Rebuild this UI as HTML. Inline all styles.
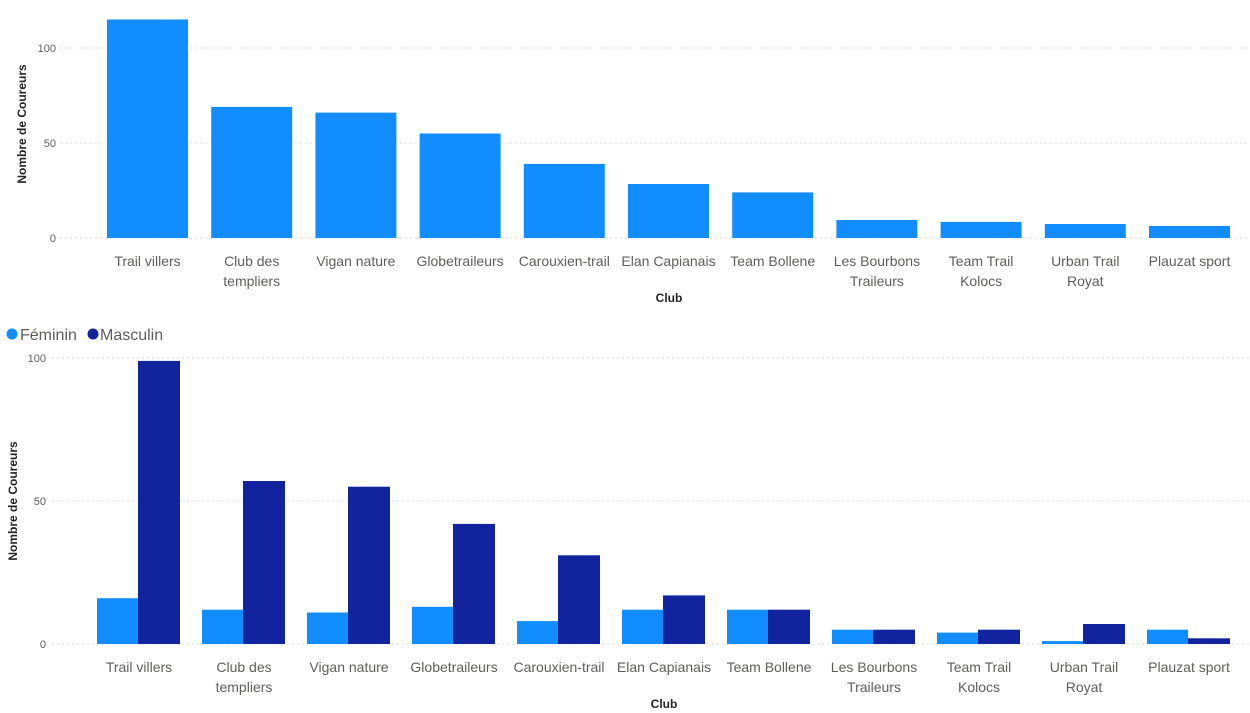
<!DOCTYPE html>
<html><head><meta charset="utf-8"><style>
html,body{margin:0;padding:0;background:#fff;}
svg{display:block;font-family:"Liberation Sans",sans-serif;}
.t{font-size:14px;fill:#605E5C;text-anchor:middle;}
.y{font-size:11px;fill:#605E5C;text-anchor:end;}
.a{font-size:12px;font-weight:bold;fill:#252423;text-anchor:middle;}
.g{stroke:#d9d9d9;stroke-dasharray:2,3;stroke-width:1;}
</style></head><body>
<svg width="1250" height="713" viewBox="0 0 1250 713">
<!-- top chart -->
<line class="g" x1="60" y1="48" x2="1250" y2="48"/>
<line class="g" x1="60" y1="143" x2="1250" y2="143"/>
<line class="g" x1="60" y1="238" x2="1250" y2="238"/>
<text class="y" x="56" y="52">100</text>
<text class="y" x="56" y="147">50</text>
<text class="y" x="56" y="242">0</text>
<text class="a" transform="translate(26,124) rotate(-90)">Nombre de Coureurs</text>
<g fill="#118DFF">
<rect x="107" y="19.5" width="81" height="218.5"/>
<rect x="211.2" y="106.9" width="81" height="131.1"/>
<rect x="315.4" y="112.6" width="81" height="125.4"/>
<rect x="419.6" y="133.5" width="81" height="104.5"/>
<rect x="523.8" y="163.9" width="81" height="74.1"/>
<rect x="628" y="184" width="81" height="54"/>
<rect x="732.2" y="192.4" width="81" height="45.6"/>
<rect x="836.4" y="220" width="81" height="18"/>
<rect x="940.6" y="221.9" width="81" height="16.1"/>
<rect x="1044.8" y="224" width="81" height="14"/>
<rect x="1149" y="226" width="81" height="12"/>
</g>
<g class="t">
<text x="147.5" y="266">Trail villers</text>
<text x="251.7" y="266">Club des</text><text x="251.7" y="286">templiers</text>
<text x="355.9" y="266">Vigan nature</text>
<text x="460.1" y="266">Globetraileurs</text>
<text x="564.3" y="266">Carouxien-trail</text>
<text x="668.5" y="266">Elan Capianais</text>
<text x="772.7" y="266">Team Bollene</text>
<text x="876.9" y="266">Les Bourbons</text><text x="876.9" y="286">Traileurs</text>
<text x="981.1" y="266">Team Trail</text><text x="981.1" y="286">Kolocs</text>
<text x="1085.3" y="266">Urban Trail</text><text x="1085.3" y="286">Royat</text>
<text x="1189.5" y="266">Plauzat sport</text>
</g>
<text class="a" x="669" y="302">Club</text>

<!-- legend -->
<circle cx="12" cy="334" r="5.5" fill="#118DFF"/>
<text x="20" y="340" style="font-size:16px;fill:#605E5C">Féminin</text>
<circle cx="93" cy="334" r="5.5" fill="#12239E"/>
<text x="100" y="340" style="font-size:16px;fill:#605E5C">Masculin</text>

<!-- bottom chart -->
<line class="g" x1="52" y1="358" x2="1250" y2="358"/>
<line class="g" x1="52" y1="501" x2="1250" y2="501"/>
<line class="g" x1="52" y1="644" x2="1250" y2="644"/>
<text class="y" x="46" y="362">100</text>
<text class="y" x="46" y="505">50</text>
<text class="y" x="46" y="648">0</text>
<text class="a" transform="translate(17,501) rotate(-90)">Nombre de Coureurs</text>
<g fill="#118DFF">
<rect x="97" y="598.2" width="41" height="45.8"/>
<rect x="202" y="609.7" width="41" height="34.3"/>
<rect x="307" y="612.5" width="41" height="31.5"/>
<rect x="412" y="606.8" width="41" height="37.2"/>
<rect x="517" y="621.1" width="41" height="22.9"/>
<rect x="622" y="609.7" width="41" height="34.3"/>
<rect x="727" y="609.7" width="41" height="34.3"/>
<rect x="832" y="629.7" width="41" height="14.3"/>
<rect x="937" y="632.6" width="41" height="11.4"/>
<rect x="1042" y="641.1" width="41" height="2.9"/>
<rect x="1147" y="629.7" width="41" height="14.3"/>
</g>
<g fill="#12239E">
<rect x="138" y="360.9" width="42" height="283.1"/>
<rect x="243" y="481" width="42" height="163"/>
<rect x="348" y="486.7" width="42" height="157.3"/>
<rect x="453" y="523.9" width="42" height="120.1"/>
<rect x="558" y="555.3" width="42" height="88.7"/>
<rect x="663" y="595.4" width="42" height="48.6"/>
<rect x="768" y="609.7" width="42" height="34.3"/>
<rect x="873" y="629.7" width="42" height="14.3"/>
<rect x="978" y="629.7" width="42" height="14.3"/>
<rect x="1083" y="624" width="42" height="20"/>
<rect x="1188" y="638.3" width="42" height="5.7"/>
</g>
<g class="t">
<text x="139" y="672">Trail villers</text>
<text x="244" y="672">Club des</text><text x="244" y="692">templiers</text>
<text x="349" y="672">Vigan nature</text>
<text x="454" y="672">Globetraileurs</text>
<text x="559" y="672">Carouxien-trail</text>
<text x="664" y="672">Elan Capianais</text>
<text x="769" y="672">Team Bollene</text>
<text x="874" y="672">Les Bourbons</text><text x="874" y="692">Traileurs</text>
<text x="979" y="672">Team Trail</text><text x="979" y="692">Kolocs</text>
<text x="1084" y="672">Urban Trail</text><text x="1084" y="692">Royat</text>
<text x="1189" y="672">Plauzat sport</text>
</g>
<text class="a" x="664" y="708">Club</text>
</svg>
</body></html>
